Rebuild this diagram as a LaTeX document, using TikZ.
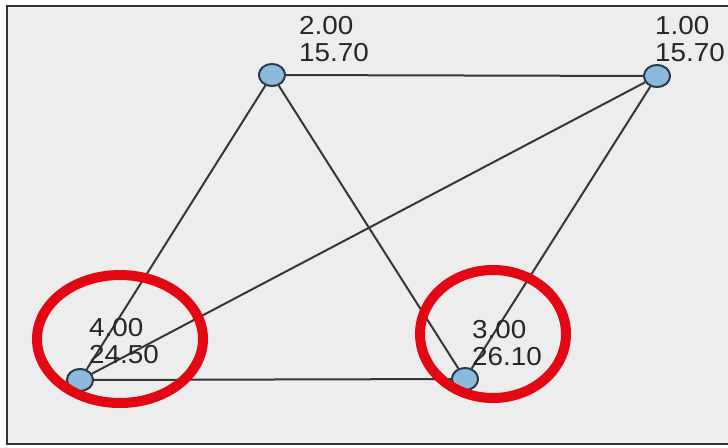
\documentclass[tikz,border=0pt]{standalone}
\usepackage{fontspec}
\setmainfont{Liberation Sans}
\usetikzlibrary{shapes.geometric}
\definecolor{panel}{HTML}{EDEDED}
\definecolor{frameline}{HTML}{333333}
\definecolor{edgeline}{HTML}{363636}
\definecolor{vfill}{HTML}{8DB9DA}
\definecolor{vline}{HTML}{263848}
\definecolor{mark}{HTML}{E30613}
\tikzset{
  vertex/.style={ellipse, draw=vline, fill=vfill, line width=1.8pt,
    minimum width=26pt, minimum height=22pt, inner sep=0pt},
  edge/.style={draw=edgeline, line width=2pt},
  vlabel/.style={anchor=north west, inner sep=0pt, align=left, text=black!85,
    font=\fontsize{26}{27.5}\selectfont, xscale=1.07, transform shape},
  halo/.style={draw=mark, line width=10pt}
}
\begin{document}
\begin{tikzpicture}[x=1pt, y=1pt]
  \useasboundingbox (0,0) rectangle (728,-447);
  \clip (0,0) rectangle (728,-447);
  % panel
  \fill[white] (0,0) rectangle (728,-447);
  \draw[fill=panel, draw=frameline, line width=2pt] (7,-6) rectangle (745,-444);
  % vertex positions
  \node[vertex] (v2) at (272,-75) {};
  \node[vertex] (v1) at (657,-76) {};
  \node[vertex] (v4) at (80,-380) {};
  \node[vertex] (v3) at (465,-379) {};
  % edges
  \path[edge] (v2) -- (v1);
  \path[edge] (v2) -- (v4);
  \path[edge] (v2) -- (v3);
  \path[edge] (v1) -- (v4);
  \path[edge] (v1) -- (v3);
  \path[edge] (v4) -- (v3);
  % vertices drawn again above the edge ends
  \node[vertex] at (v2) {};
  \node[vertex] at (v1) {};
  \node[vertex] at (v4) {};
  \node[vertex] at (v3) {};
  % labels
  \node[vlabel] (t2) at (299,-16) {2.00\\15.70};
  \node[vlabel] (t1) at (655,-16) {1.00\\15.70};
  \node[vlabel] (t4) at (89,-318) {4.00\\24.50};
  \node[vlabel] (t3) at (472,-320) {3.00\\26.10};
  % highlight rings
  \draw[halo] (120,-339) ellipse [x radius=83, y radius=64];
  \draw[halo] (493,-334) ellipse [x radius=73, y radius=64];
\end{tikzpicture}
\end{document}
